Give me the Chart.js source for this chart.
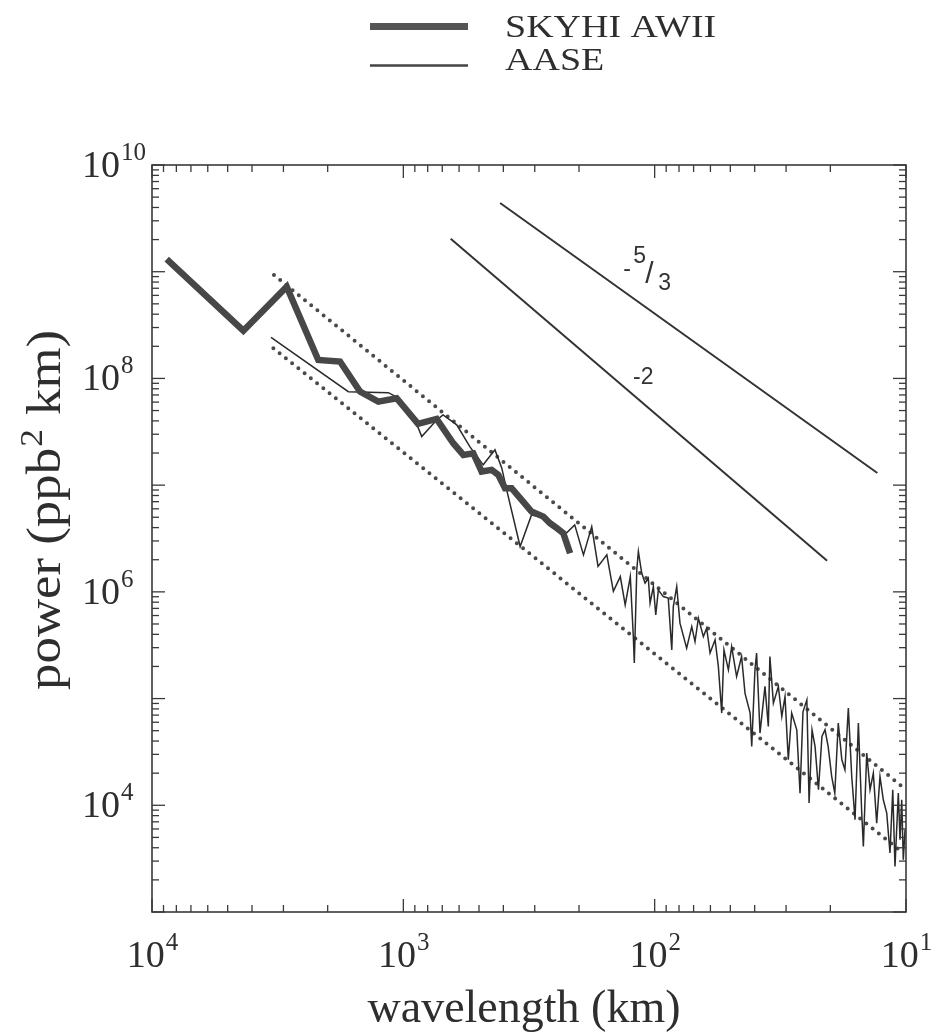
<!DOCTYPE html>
<html><head><meta charset="utf-8">
<script src="https://cdn.jsdelivr.net/npm/chart.js@4.4.1/dist/chart.umd.min.js"></script>
<style>html,body{margin:0;padding:0;background:#fff}#wrap{width:952px;height:1036px;position:relative}</style>
</head><body><div id="wrap"><canvas id="c" width="952" height="1036"></canvas></div>
<script>
// ---- data ----
const skyhiWavelength = [8740, 4330, 2911, 2180, 1786, 1487, 1258, 1063, 874, 737, 633, 577, 527, 488, 445, 419, 394, 371, 343, 309, 277, 261, 245, 231, 217];
const skyhiPower = [1.31e9, 2.80e8, 7.24e8, 1.49e8, 1.44e8, 7.52e7, 6.06e7, 6.52e7, 3.75e7, 4.17e7, 2.47e7, 1.92e7, 1.99e7, 1.34e7, 1.39e7, 1.25e7, 9.36e6, 9.36e6, 7.55e6, 5.65e6, 5.07e6, 4.40e6, 3.95e6, 3.55e6, 2.30e6];

const aaseWavelength = [3361, 1655, 1147, 1031, 885, 845, 735, 695, 613, 543,
  481, 432, 406, 388, 343, 309, 273, 245, 224, 208,
  192, 178, 168, 155, 146, 137, 131, 125, 121.6, 120.5,
  117.8, 116.1, 112.6, 109.2, 106.0, 104.3, 101.2, 99.0, 96.7, 92.4,
  88.3, 85.5, 84.3, 81.7, 79.3, 74.6, 71.2, 69.1, 67.0, 64.0,
  62.1, 60.2, 57.5, 55.8, 54.1, 53.0, 50.9, 49.4, 47.2, 45.1,
  43.7, 41.7, 41.1, 39.9, 39.3, 38.1, 36.4, 35.3, 34.8, 33.7,
  32.2, 31.2, 30.3, 29.4, 28.5, 27.2, 26.4, 25.7, 24.8, 24.3,
  23.65, 23.0, 22.3, 21.6, 21.0, 20.4, 19.75, 19.2, 18.6, 18.0,
  17.5, 16.96, 16.44, 15.95, 15.47, 15.0, 14.78, 14.33, 13.9, 13.49,
  13.08, 12.69, 12.31, 11.93, 11.58, 11.29, 11.06, 10.73, 10.56, 10.40,
  10.25, 10.09];
const aasePower = [2.43e8, 7.52e7, 7.36e7, 6.43e7, 3.75e7, 2.85e7, 4.09e7, 4.55e7, 3.67e7, 2.28e7,
  1.55e7, 2.14e7, 1.45e7, 9.03e6, 2.66e6, 5.26e6, 4.93e6, 3.98e6, 3.57e6, 4.24e6,
  2.22e6, 4.09e6, 1.73e6, 2.22e6, 1.01e6, 1.39e6, 7.55e5, 1.39e6, 3.81e5, 2.15e5,
  1.61e6, 2.39e6, 1.50e6, 1.21e6, 1.34e6, 7.84e5, 1.12e6, 6.09e5, 1.04e6, 9.03e5,
  8.73e5, 2.86e5, 7.28e5, 1.12e6, 5.09e5, 2.97e5, 4.73e5, 3.42e5, 5.67e5, 3.81e5,
  4.57e5, 2.67e5, 3.55e5, 2.00e5, 7.31e4, 2.86e5, 1.86e5, 3.07e5, 1.61e5, 2.48e5,
  1.12e5, 7.31e4, 3.55e4, 1.86e5, 2.67e5, 4.75e4, 1.30e5, 5.47e4, 2.48e5, 9.06e4,
  1.30e5, 6.79e4, 1.045e5, 2.67e4, 7.31e4, 5.10e4, 1.30e4, 7.52e4, 9.73e4, 1.05e4,
  5.10e4, 3.55e4, 1.40e4, 4.41e4, 5.10e4, 3.55e4, 1.86e4, 1.30e4, 5.89e4, 2.67e4,
  2.15e4, 8.14e4, 1.86e4, 7.31e3, 5.89e4, 8.45e3, 4.11e3, 3.08e4, 1.40e4, 2.00e4,
  6.81e3, 1.86e4, 1.126e4, 8.45e3, 3.57e3, 1.40e4, 2.67e3, 1.30e4, 4.75e3, 1.126e4,
  3.09e3, 5.90e3];

// reference power laws
const slope53Wavelength = [412, 13.0];
const slope53Power = [4.41e9, 1.30e7];
const slope2Wavelength = [648, 20.6];
const slope2Power = [2.04e9, 1.96e6];
// dotted envelope
const upperWavelength = [3271, 10];
const upperPower = [9.32e8, 1.40e4];
const lowerWavelength = [3289, 10.3];
const lowerPower = [1.92e8, 3.59e3];

const xTickExponents = ['4', '3', '2', '1'];
const yTickExponents = ['10', '8', '6', '4'];
const seriesNames = ['SKYHI AWII', 'AASE'];
const xTitle = 'wavelength (km)';
const yTitleParts = ['power (ppb', '2', ' km)'];
const slopeLabel53 = {x: 114, y: 1.04e9};
const slopeLabel2 = {x: 111, y: 1.01e8};

const pts = (xs, ys) => xs.map((x, i) => ({x, y: ys[i]}));
const SERIF = '"Liberation Serif", "Times New Roman", serif';
const SANS = '"Liberation Sans", Arial, sans-serif';

const decor = {
  id: 'decor',
  afterDraw(chart) {
    const {ctx, chartArea: a, scales: {x, y}} = chart;
    ctx.save();
    ctx.strokeStyle = '#3a3a3a';
    ctx.fillStyle = '#2e2e2e';
    // frame
    ctx.lineWidth = 1.6;
    ctx.strokeRect(a.left, a.top, a.right - a.left, a.bottom - a.top);
    // ticks
    ctx.lineWidth = 1.3;
    const seg = (x1, y1, x2, y2) => { ctx.beginPath(); ctx.moveTo(x1, y1); ctx.lineTo(x2, y2); ctx.stroke(); };
    for (let e = 1; e <= 4; e++) for (let m = 1; m <= 9; m++) {
      const v = m * Math.pow(10, e);
      if (v < x.min || v > x.max) continue;
      const p = x.getPixelForValue(v);
      const L = m === 1 ? 13 : 7;
      seg(p, a.bottom, p, a.bottom - L);
      seg(p, a.top, p, a.top + L);
    }
    for (let e = 3; e <= 10; e++) for (let m = 1; m <= 9; m++) {
      const v = m * Math.pow(10, e);
      if (v < y.min || v > y.max) continue;
      const p = y.getPixelForValue(v);
      const L = m === 1 ? 13 : 7;
      seg(a.left, p, a.left + L, p);
      seg(a.right, p, a.right - L, p);
    }
    // tick labels
    const bigF = '38px ' + SERIF, smallF = '25px ' + SERIF;
    ctx.textBaseline = 'alphabetic';
    ctx.textAlign = 'left';
    xTickExponents.forEach(ex => {
      const p = x.getPixelForValue(Math.pow(10, +ex));
      ctx.font = bigF; const wb = ctx.measureText('10').width;
      ctx.font = smallF; const we = ctx.measureText(ex).width;
      const s = p - (wb + we) / 2;
      ctx.font = bigF; ctx.fillText('10', s, 967);
      ctx.font = smallF; ctx.fillText(ex, s + wb + 1, 950);
    });
    yTickExponents.forEach(ex => {
      const p = y.getPixelForValue(Math.pow(10, +ex));
      ctx.font = bigF; const wb = ctx.measureText('10').width;
      ctx.fillText('10', 82, p + 12);
      ctx.font = smallF; ctx.fillText(ex, 82 + wb + 1, p - 5);
    });
    // axis titles
    ctx.font = '46px ' + SERIF;
    ctx.textAlign = 'center';
    ctx.fillText(xTitle, 524, 1022);
    ctx.save();
    ctx.translate(60, 511);
    ctx.rotate(-Math.PI / 2);
    ctx.scale(1.1, 1);
    const f1 = '48px ' + SERIF, f2 = '32px ' + SERIF;
    ctx.textAlign = 'left';
    ctx.font = f1; const w1 = ctx.measureText(yTitleParts[0]).width, w3 = ctx.measureText(yTitleParts[2]).width;
    ctx.font = f2; const w2 = ctx.measureText(yTitleParts[1]).width;
    let sx = -(w1 + w2 + w3) / 2;
    ctx.font = f1; ctx.fillText(yTitleParts[0], sx, 0);
    ctx.font = f2; ctx.fillText(yTitleParts[1], sx + w1 + 1, -18);
    ctx.font = f1; ctx.fillText(yTitleParts[2], sx + w1 + w2 + 2, 0);
    ctx.restore();
    // legend
    ctx.lineCap = 'butt';
    ctx.strokeStyle = '#555';
    ctx.lineWidth = 7; seg(370, 26.5, 468, 26.5);
    ctx.strokeStyle = '#444';
    ctx.lineWidth = 2.5; seg(370, 65.5, 468, 65.5);
    ctx.textAlign = 'left';
    ctx.save();
    ctx.font = '38px ' + SERIF;
    ctx.translate(505, 37); ctx.scale(1, 0.83);
    ctx.fillText(seriesNames[0], 0, 0);
    ctx.restore();
    ctx.save();
    ctx.font = '38px ' + SERIF;
    ctx.translate(505, 70); ctx.scale(1, 0.83);
    ctx.fillText(seriesNames[1], 0, 0);
    ctx.restore();
    // slope labels
    ctx.fillStyle = '#333';
    const ax = x.getPixelForValue(slopeLabel53.x), ay = y.getPixelForValue(slopeLabel53.y);
    ctx.font = '23px ' + SANS;
    ctx.textAlign = 'left';
    ctx.fillText('-', ax - 17, ay + 6);
    ctx.fillText('5', ax - 7, ay - 7);
    ctx.font = '30px ' + SANS;
    ctx.fillText('/', ax + 5, ay + 13);
    ctx.font = '23px ' + SANS;
    ctx.fillText('3', ax + 18, ay + 20);
    const bx = x.getPixelForValue(slopeLabel2.x), by = y.getPixelForValue(slopeLabel2.y);
    ctx.textAlign = 'center'; ctx.textBaseline = 'middle';
    ctx.fillText('-2', bx, by);
    ctx.restore();
  }
};

new Chart(document.getElementById('c'), {
  type: 'scatter',
  data: {
    datasets: [
      {label: seriesNames[0], data: pts(skyhiWavelength, skyhiPower), showLine: true, borderColor: '#474747', borderWidth: 6.5, borderJoinStyle: 'miter', pointRadius: 0, tension: 0},
      {label: seriesNames[1], data: pts(aaseWavelength, aasePower), showLine: true, borderColor: '#2a2a2a', borderWidth: 1.5, pointRadius: 0, tension: 0},
      {label: '-5/3', data: pts(slope53Wavelength, slope53Power), showLine: true, borderColor: '#333', borderWidth: 2, pointRadius: 0},
      {label: '-2', data: pts(slope2Wavelength, slope2Power), showLine: true, borderColor: '#333', borderWidth: 2, pointRadius: 0},
      {label: 'upper', data: pts(upperWavelength, upperPower), showLine: true, borderColor: '#4a4a4a', borderWidth: 4, borderDash: [0, 8], borderCapStyle: 'round', pointRadius: 0},
      {label: 'lower', data: pts(lowerWavelength, lowerPower), showLine: true, borderColor: '#4a4a4a', borderWidth: 4, borderDash: [0, 8], borderCapStyle: 'round', pointRadius: 0}
    ]
  },
  options: {
    responsive: false,
    animation: false,
    events: [],
    layout: {padding: {left: 152, right: 46, top: 165, bottom: 124}},
    plugins: {legend: {display: false}, tooltip: {enabled: false}},
    scales: {
      x: {type: 'logarithmic', reverse: true, min: 10, max: 10000,
          ticks: {display: false}, grid: {display: false}, border: {display: false},
          afterFit: s => { s.height = 0; }},
      y: {type: 'logarithmic', min: 1000, max: 1e10,
          ticks: {display: false}, grid: {display: false}, border: {display: false},
          afterFit: s => { s.width = 0; }}
    }
  },
  plugins: [decor]
});
</script>
</body></html>
